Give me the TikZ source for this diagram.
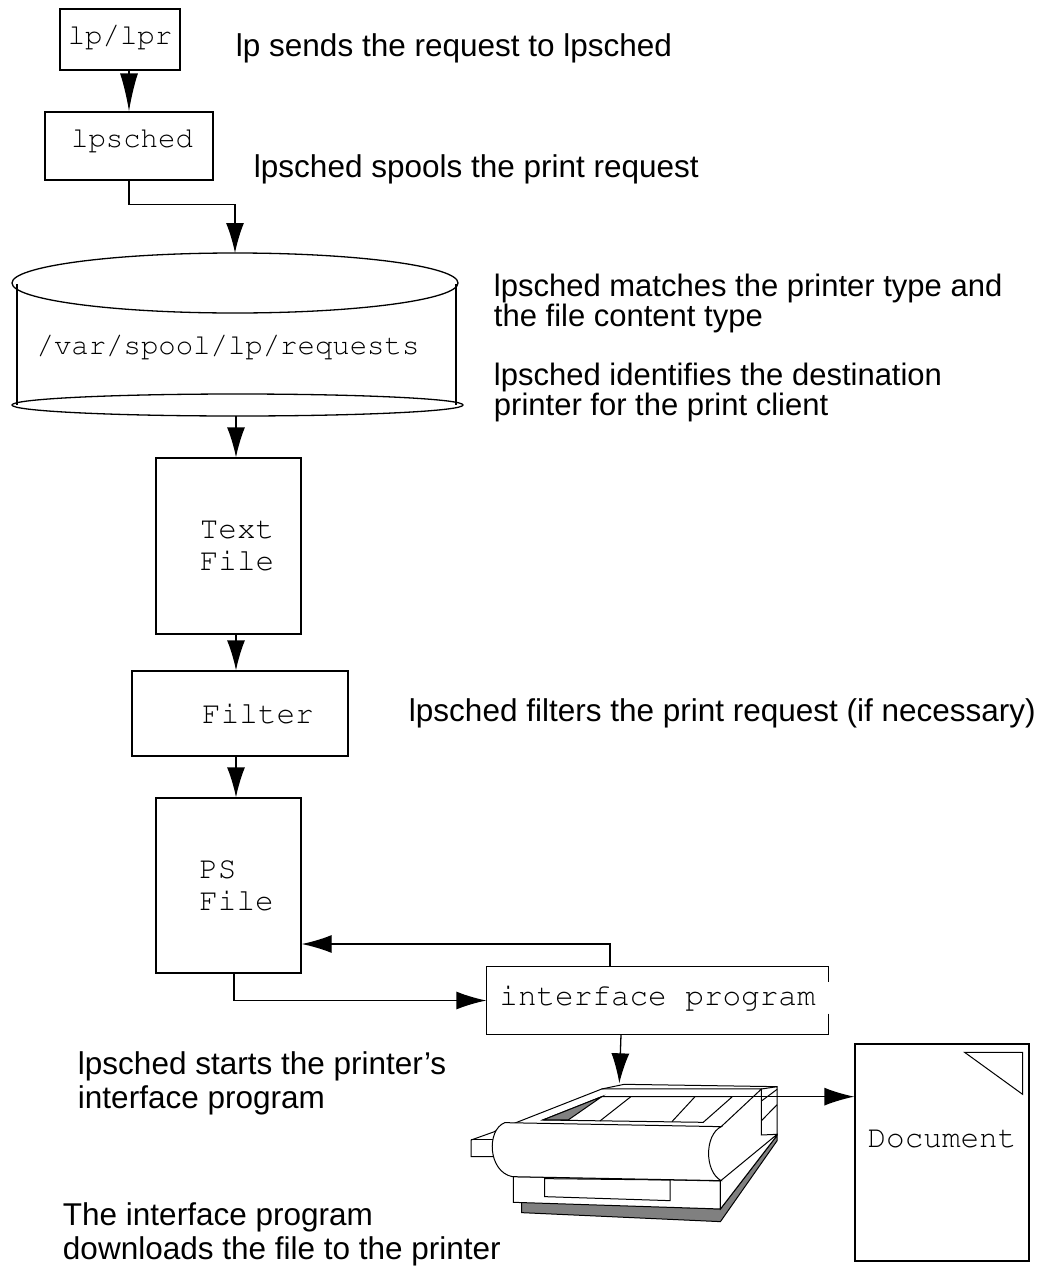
\documentclass[tikz,border=0pt]{standalone}
\usepackage[T1]{fontenc}
\usepackage{fontspec}
\setmainfont{Liberation Sans}
\newcommand{\courierfont}{\fontencoding{T1}\fontfamily{pcr}\selectfont}
\usetikzlibrary{arrows.meta}

\tikzset{
 filebox/.style={rectangle, draw, inner sep=0pt, align=left, font=\courierfont\fontsize{31}{32}\selectfont},
 smallmono/.style={font=\courierfont\fontsize{29}{30}\selectfont},
 note/.style={anchor=base west, align=left, font=\fontsize{31.5}{34}\selectfont},
 flow/.style={-{Latex[length=30pt,width=18pt]}},
}

\begin{document}
\begin{tikzpicture}[x=1pt, y=-1pt, line width=1.3pt]
 \useasboundingbox (0,0) rectangle (1044,1266);

 \draw node[filebox, smallmono, minimum width=120pt, minimum height=61pt] (lp) at (120,39.5) {\raisebox{2pt}[\height][\depth]{lp/lpr}};
 \draw node[filebox, smallmono, minimum width=168pt, minimum height=68pt] (lpsched) at (129,146) {\hspace*{6pt}\raisebox{6pt}[\height][\depth]{lpsched}};
 \draw node[smallmono] (spool) at (228,347) {/var/spool/lp/requests};
 \draw node[filebox, minimum width=145pt, minimum height=176pt] (tfile) at (228.5,546) {\hspace*{17pt}Text\\\hspace*{17pt}File};
 \draw node[filebox, minimum width=216pt, minimum height=85pt] (filter) at (240,713.5) {\hspace*{36pt}Filter};
 \draw node[filebox, minimum width=145pt, minimum height=175pt] (ps) at (228.5,885.5) {\hspace*{16pt}PS\\\hspace*{16pt}File};
 \draw node[filebox, draw=none, minimum width=341pt, minimum height=67pt] (ifp) at (657.5,1000.5) {\raisebox{3pt}[\height][\depth]{interface program}};
 \draw node[filebox, minimum width=174pt, minimum height=217pt] (doc) at (942,1152.5) {\raisebox{13pt}[\height][\depth]{Document}};

 % spool directory drum
 \draw (235,283) ellipse [x radius=223pt, y radius=30pt];
 \draw (17,284) -- (17,405);
 \draw (456,284) -- (456,405);
 \draw (237.5,405) ellipse [x radius=225.5pt, y radius=11pt];
 \coordinate (spooltop) at (235,253);
 \coordinate (spoolbot) at (236,416);

 % interface box, right edge broken by the label
 \draw (ifp.south east) ++(0,-21) -- (ifp.south east) -- (ifp.south west)
  -- (ifp.north west) -- (ifp.north east) -- ++(0,16);

 % folded corner of the document
 \draw[line width=1pt] ([xshift=-7pt,yshift=-9pt]doc.north east) -- ++(0,42) -- ++(-58,-42) -- cycle;

 % printer
 \begin{scope}[shift={(460,900)}, x=0.3731pt, y=-0.3333pt, line width=1pt]
  \draw[fill=gray] (165,905) -- (698,927) -- (850,706) -- (850,722) -- (698,965) -- (165,938) -- cycle;
  \draw[fill=white] (143,830) -- (698,843) -- (698,927) -- (143,907) -- cycle;
  \draw (227,836) -- (563,840) -- (563,902) -- (227,890) -- cycle;
  \draw[fill=white] (698,843) -- (850,703) -- (850,706) -- (698,927) -- cycle;
  \draw[fill=white] (30,720) -- (105,690) -- (105,770) -- (30,770) -- cycle;
  \draw (30,720) -- (105,720);
  \draw[fill=white] (808,567) -- (850,560) -- (850,703) -- (808,705) -- cycle;
  \draw (808,603) -- (850,568);
  \draw (808,662) -- (850,614);
  \draw[fill=white] (100,690) -- (380,567) -- (808,567) -- (700,680) -- cycle;
  \draw (380,567) -- (440,553) -- (850,560);
  \draw[fill=white] (222,660) -- (380,590) -- (730,590) -- (652,667) -- cycle;
  \draw[fill=gray] (222,660) -- (380,590) -- (290,660) -- cycle;
  \draw (375,663) -- (458,590);
  \draw (568,665) -- (630,590);
  \draw[fill=white] (120,668) -- (700,680) .. controls (655,705) and (655,815) .. (700,842)
   -- (140,830) .. controls (75,815) and (70,690) .. (120,668) -- cycle;
  \coordinate (prtop) at (427,550);
  \coordinate (prout) at (645,590);
 \end{scope}

 \draw[-{Latex[length=38pt,width=18pt]}] (lpsched.north |- lp.south) -- (lpsched.north);
 \draw[flow] (lpsched.south) -- ++(0,24) -| (spooltop);
 \draw[flow] (spoolbot) -- (spoolbot |- tfile.north);
 \draw[flow] (spoolbot |- tfile.south) -- (spoolbot |- filter.north);
 \draw[flow] (spoolbot |- filter.south) -- (spoolbot |- ps.north);
 \draw[flow] ([xshift=-47.5pt]ifp.north) |- ([yshift=-58.5pt]ps.east);
 \draw[flow] ([xshift=5.5pt]ps.south) |- (ifp.west);
 \draw[flow] ([xshift=-36.5pt]ifp.south) -- (prtop);
 \draw[flow] (prout) -- (prout -| doc.west);

 % multi-line notes sit on the baseline of their last line
 \node[note] (n1) at (232,56) {lp sends the request to lpsched};
 \node[note] (n2) at (250,177) {lpsched spools the print request};
 \node[note, font=\fontsize{31}{30}\selectfont] (n3) at (490,326) {lpsched matches the printer type and\\the file content type};
 \node[note, font=\fontsize{31}{30}\selectfont] (n4) at (490,415) {lpsched identifies the destination\\printer for the print client};
 \node[note] (n5) at (405,721) {lpsched filters the print request (if necessary)};
 \node[note] (n6) at (74,1108) {lpsched starts the printer’s\\interface program};
 \node[note] (n7) at (59,1259) {The interface program\\downloads the file to the printer};
\end{tikzpicture}
\end{document}
